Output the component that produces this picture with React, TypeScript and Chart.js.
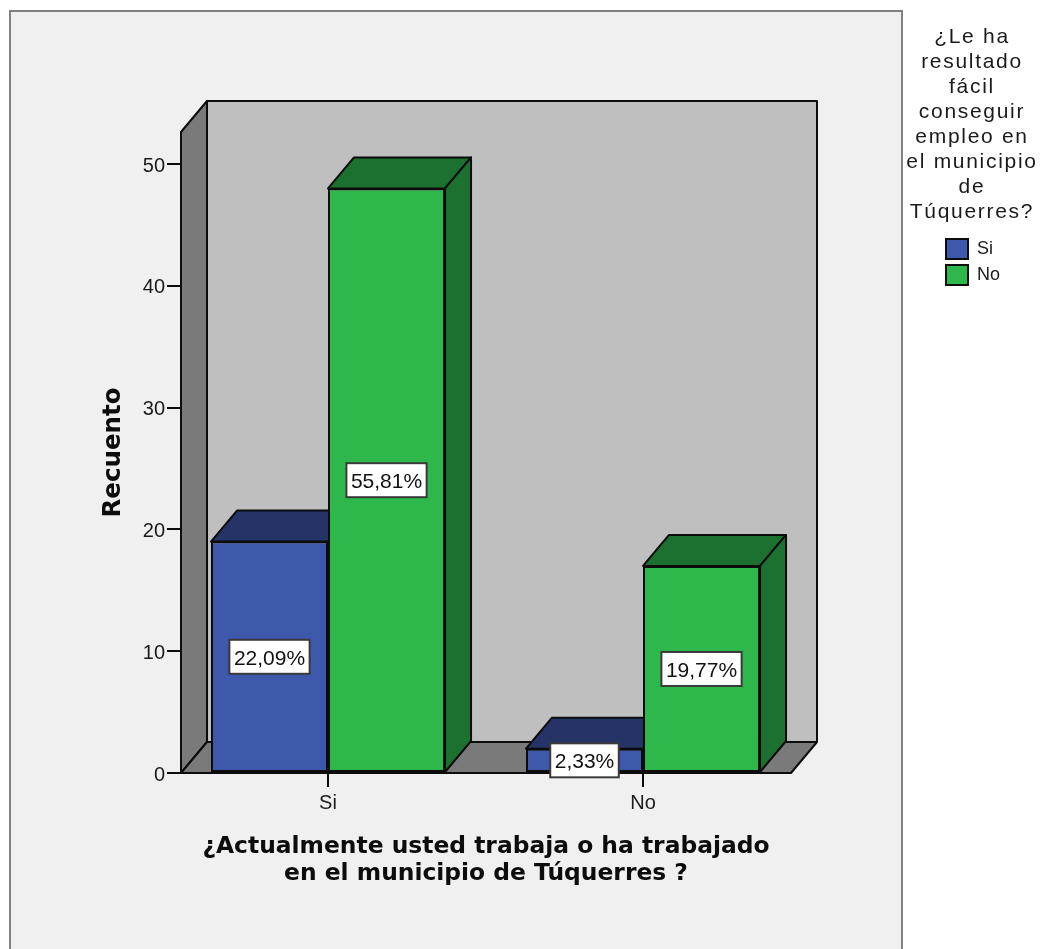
import React, { useEffect, useRef } from "react";
import { Chart, registerables } from "chart.js";

Chart.register(...registerables);

const categories = ["Si", "No"];
const legendTitle = ["¿Le ha", "resultado", "fácil", "conseguir", "empleo en", "el municipio", "de", "Túquerres?"];
const xTitle = ["¿Actualmente usted trabaja o ha trabajado", "en el municipio de Túquerres ?"];
const yTitle = "Recuento";
const siValues = [19, 2];
const noValues = [48, 17];
const siPercents = ["22,09%", "2,33%"];
const noPercents = ["55,81%", "19,77%"];
const yTickStep = 10;
const yMax = 52.63;
const xMin = -0.4667;
const xMax = 1.4698;

const FONT = "'Liberation Sans', Arial, sans-serif";
const TITLE_FONT = "'DejaVu Sans', Verdana, sans-serif";
const DEPTH_X = 26;
const DEPTH_Y = 31;
const OUT = "#0c0c0c";

function poly(ctx: CanvasRenderingContext2D, pts: number[][], fill: string) {
  ctx.beginPath();
  pts.forEach((p, i) => (i ? ctx.lineTo(p[0], p[1]) : ctx.moveTo(p[0], p[1])));
  ctx.closePath();
  ctx.fillStyle = fill;
  ctx.fill();
  ctx.lineWidth = 2;
  ctx.strokeStyle = OUT;
  ctx.lineJoin = "round";
  ctx.stroke();
}

const scene = {
  id: "scene",
  afterLayout(chart: any) {
    const l = chart.legend;
    if (!l) return;
    l.left = 940;
    l.right = 1010;
    l.width = 70;
    l.top = 233;
    l.bottom = 291;
    l.height = 58;
    l.adjustHitBoxes && l.adjustHitBoxes();
  },
  beforeDraw(chart: any) {
    const ctx = chart.ctx;
    ctx.save();
    ctx.fillStyle = "#ffffff";
    ctx.fillRect(0, 0, chart.width, chart.height);
    ctx.fillStyle = "#F0F0F0";
    ctx.fillRect(10, 11, 892, chart.height - 11);
    ctx.strokeStyle = "#808080";
    ctx.lineWidth = 2;
    ctx.beginPath();
    ctx.moveTo(10, chart.height);
    ctx.lineTo(10, 11);
    ctx.lineTo(902, 11);
    ctx.lineTo(902, chart.height);
    ctx.stroke();
    ctx.restore();
  },
  beforeDatasetsDraw(chart: any) {
    const ctx = chart.ctx;
    const { left, right, top, bottom } = chart.chartArea;
    ctx.save();
    poly(ctx, [[left + DEPTH_X, top - DEPTH_Y], [right + DEPTH_X, top - DEPTH_Y], [right + DEPTH_X, bottom - DEPTH_Y], [left + DEPTH_X, bottom - DEPTH_Y]], "#BFBFBF");
    poly(ctx, [[left, top], [left + DEPTH_X, top - DEPTH_Y], [left + DEPTH_X, bottom - DEPTH_Y], [left, bottom]], "#7A7A7A");
    poly(ctx, [[left, bottom], [left + DEPTH_X, bottom - DEPTH_Y], [right + DEPTH_X, bottom - DEPTH_Y], [right, bottom]], "#7A7A7A");
    const shades = ["#253366", "#1C7030"];
    chart.data.datasets.forEach((_: any, d: number) => {
      chart.getDatasetMeta(d).data.forEach((bar: any) => {
        const x0 = bar.x - bar.width / 2;
        const x1 = bar.x + bar.width / 2;
        poly(ctx, [[x0, bar.y], [x0 + DEPTH_X, bar.y - DEPTH_Y], [x1 + DEPTH_X, bar.y - DEPTH_Y], [x1, bar.y]], shades[d]);
        poly(ctx, [[x1, bar.y], [x1 + DEPTH_X, bar.y - DEPTH_Y], [x1 + DEPTH_X, bar.base - DEPTH_Y], [x1, bar.base]], shades[d]);
      });
    });
    ctx.restore();
  },
  afterDatasetsDraw(chart: any) {
    const ctx = chart.ctx;
    const labels = [siPercents, noPercents];
    ctx.save();
    ctx.font = `21px ${FONT}`;
    ctx.textAlign = "center";
    ctx.textBaseline = "middle";
    chart.data.datasets.forEach((_: any, d: number) => {
      chart.getDatasetMeta(d).data.forEach((bar: any, i: number) => {
        const text = labels[d][i];
        const w = ctx.measureText(text).width + 9;
        const h = 34;
        const cx = bar.x;
        const cy = (bar.y + bar.base) / 2;
        ctx.fillStyle = "#ffffff";
        ctx.strokeStyle = "#3a3a3a";
        ctx.lineWidth = 2;
        ctx.fillRect(cx - w / 2, cy - h / 2, w, h);
        ctx.strokeRect(cx - w / 2, cy - h / 2, w, h);
        ctx.fillStyle = "#111111";
        ctx.fillText(text, cx, cy + 2);
      });
    });
    ctx.restore();
  },
  afterDraw(chart: any) {
    const ctx = chart.ctx;
    ctx.save();
    ctx.font = `21px ${FONT}`;
    ctx.fillStyle = "#1a1a1a";
    ctx.textAlign = "center";
    ctx.textBaseline = "middle";
    (ctx as any).letterSpacing = "1.7px";
    legendTitle.forEach((line, i) => ctx.fillText(line, 972, 37 + i * 25));
    ctx.restore();
  },
};

export default function App() {
  const ref = useRef<HTMLCanvasElement>(null);
  useEffect(() => {
    document.body.style.margin = "0";
    const chart = new Chart(ref.current as HTMLCanvasElement, {
      type: "bar",
      plugins: [scene],
      data: {
        datasets: [
          {
            label: categories[0],
            data: siValues.map((y, x) => ({ x, y })),
            backgroundColor: "#3E58AC",
            borderColor: OUT,
            borderWidth: 2,
            borderSkipped: false,
          },
          {
            label: categories[1],
            data: noValues.map((y, x) => ({ x, y })),
            backgroundColor: "#2EB84C",
            borderColor: OUT,
            borderWidth: 2,
            borderSkipped: false,
          },
        ],
      },
      options: {
        animation: false,
        responsive: false,
        categoryPercentage: 0.743,
        barPercentage: 1,
        layout: { padding: { left: 60, right: 251, top: 132, bottom: 56 } },
        plugins: {
          tooltip: { enabled: false },
          legend: {
            display: true,
            position: "chartArea",
            align: "start",
            labels: {
              color: "#1a1a1a",
              font: { family: FONT, size: 18 },
              boxWidth: 22,
              boxHeight: 20,
              padding: 6,
            },
          },
        },
        scales: {
          x: {
            type: "linear",
            min: xMin,
            max: xMax,
            offset: false,
            afterBuildTicks(axis: any) {
              axis.ticks = categories.map((_, value) => ({ value }));
            },
            afterFit(axis: any) {
              axis.height = 120;
            },
            ticks: {
              color: "#1a1a1a",
              font: { family: FONT, size: 20 },
              padding: 4,
              maxRotation: 0,
              callback: (v: any) => categories[v],
            },
            grid: { offset: false, drawOnChartArea: false, drawTicks: true, tickLength: 14, color: OUT, lineWidth: 2 },
            border: { display: false },
            title: {
              display: true,
              text: xTitle,
              color: "#0c0c0c",
              font: { family: TITLE_FONT, size: 23.4, weight: "bold", lineHeight: 27 / 23.4 },
              padding: { top: 0, bottom: 6 },
            },
          },
          y: {
            min: 0,
            max: yMax,
            afterFit(axis: any) {
              axis.width = 121;
            },
            ticks: {
              stepSize: yTickStep,
              includeBounds: false,
              color: "#1a1a1a",
              font: { family: FONT, size: 20 },
              padding: 2,
              labelOffset: 2,
            },
            grid: { drawOnChartArea: false, drawTicks: true, tickLength: 14, color: OUT, lineWidth: 2 },
            border: { display: false },
            title: {
              display: true,
              text: yTitle,
              color: "#0c0c0c",
              font: { family: TITLE_FONT, size: 24.5, weight: "bold" },
              padding: { top: 39, bottom: 0 },
            },
          },
        },
      },
    } as any);
    return () => chart.destroy();
  }, []);
  return <canvas ref={ref} width={1042} height={949} style={{ display: "block" }} />;
}
